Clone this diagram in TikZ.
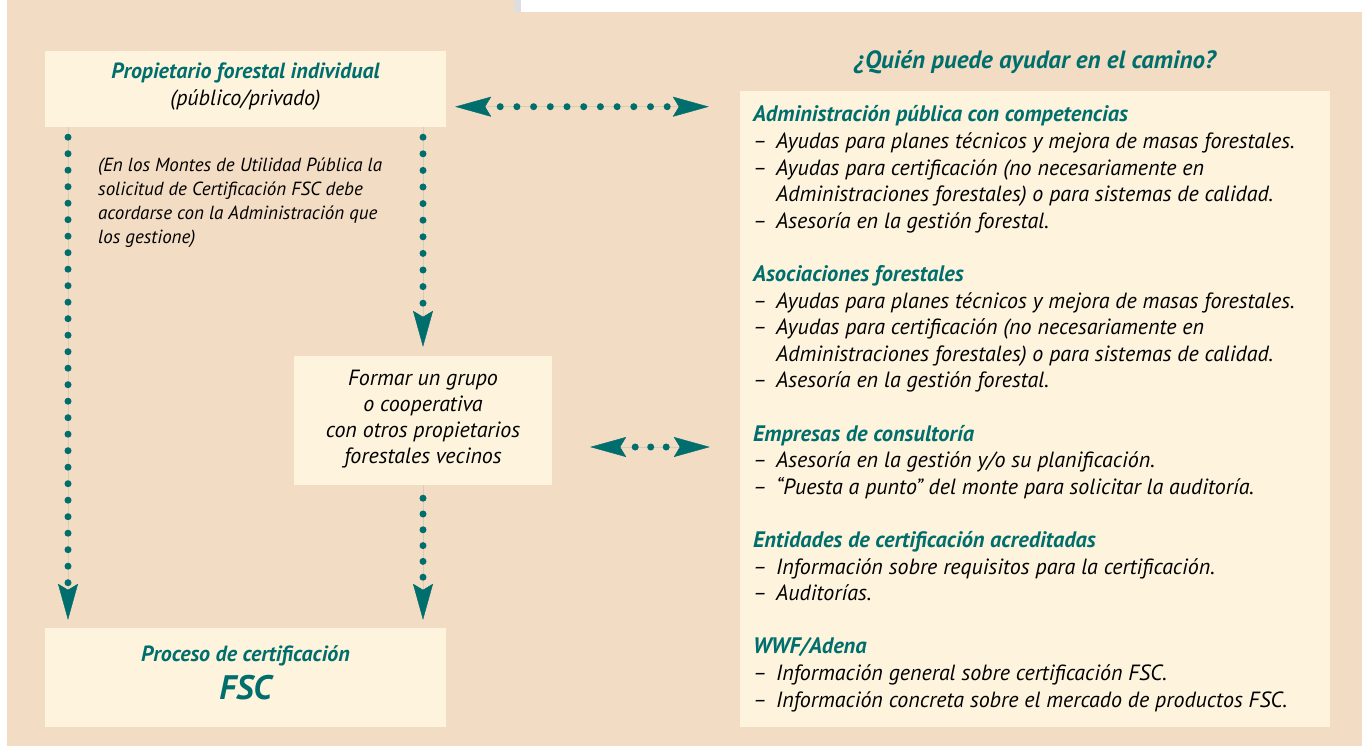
\documentclass[tikz,border=0pt]{standalone}
\usepackage{fontspec}
\setmainfont{PT Sans}
\usetikzlibrary{arrows.meta,calc}
\definecolor{fscteal}{HTML}{006E6C}
\definecolor{woodbg}{HTML}{F2DCC3}
\definecolor{cream}{HTML}{FEF4DD}
\newcommand\bitem[1]{\makebox[23pt][l]{–}#1}
\newcommand\bcont[1]{\hspace*{23pt}#1}
\newcommand\hd[1]{{\color{fscteal}\bfseries\itshape #1}}
\tikzset{
  fhead/.tip={Stealth[length=36pt,width=20pt,inset=6pt]},
  box/.style={fill=cream, draw=none, inner sep=0pt},
  dotsline/.style={draw=fscteal, line width=7pt, line cap=round, dash pattern=on 0pt off #1},
  heads/.style={draw=fscteal, fill=fscteal, line width=0.4pt, line cap=butt, dash pattern=on 0pt off 3000pt},
  txt/.style={inner sep=0pt, text=black},
}
\begin{document}
\begin{tikzpicture}[x=1pt,y=-1pt]
\useasboundingbox (0,0) rectangle (1362,746);
\fill[woodbg] (0,0) rectangle (1362,746);
\fill[white] (0,0) rectangle (7,746);
\fill[white] (521,0) rectangle (1362,12);
\fill[black!13] (514,0) rectangle (521,12);

% boxes
\node[box, minimum width=401pt, minimum height=76pt] (A) at (245.5,89) {};
\node[box, minimum width=258pt, minimum height=129pt] (B) at (423,420.5) {};
\node[box, minimum width=401pt, minimum height=99pt] (C) at (245.5,677.5) {};
\node[box, minimum width=590pt, minimum height=636pt] (D) at (1035,409) {};

% texts
\node[txt, align=center, font=\fontsize{22}{27}\selectfont] (tA) at (245.5,87)
  {\hd{\fontsize{22}{27}\selectfont Propietario forestal individual}\\ \itshape (público/privado)};
\node[txt, align=center, font=\fontsize{22}{26}\selectfont\itshape] (tB) at (423,419)
  {Formar un grupo\\o cooperativa\\con otros propietarios\\forestales vecinos};
\node[txt, font=\fontsize{22}{24}\selectfont] (tC1) at (245.5,656) {\hd{Proceso de certificación}};
\node[txt, font=\fontsize{34}{38}\selectfont] (tC2) at (245.5,688) {\hd{FSC}};
\node[txt, align=left, anchor=north west, font=\fontsize{19}{24}\selectfont\itshape] (note) at (98,157.5)
  {(En los Montes de Utilidad Pública la\\solicitud de Certificación FSC debe\\acordarse con la Administración que\\los gestione)};
\node[txt, font=\fontsize{25}{28}\selectfont] (title) at (1035,62) {\hd{¿Quién puede ayudar en el camino?}};
\node[txt, align=left, anchor=north west, font=\fontsize{22}{26.6}\selectfont\itshape] (list) at (753,105.5)
  {\hd{\fontsize{22.4}{26.6}\selectfont Administración pública con competencias}\\
   \bitem{Ayudas para planes técnicos y mejora de masas forestales.}\\
   \bitem{Ayudas para certificación (no necesariamente en}\\
   \bcont{Administraciones forestales) o para sistemas de calidad.}\\
   \bitem{Asesoría en la gestión forestal.}\\[26.6pt]
   \hd{\fontsize{22.4}{26.6}\selectfont Asociaciones forestales}\\
   \bitem{Ayudas para planes técnicos y mejora de masas forestales.}\\
   \bitem{Ayudas para certificación (no necesariamente en}\\
   \bcont{Administraciones forestales) o para sistemas de calidad.}\\
   \bitem{Asesoría en la gestión forestal.}\\[26.6pt]
   \hd{\fontsize{22.4}{26.6}\selectfont Empresas de consultoría}\\
   \bitem{Asesoría en la gestión y/o su planificación.}\\
   \bitem{“Puesta a punto” del monte para solicitar la auditoría.}\\[26.6pt]
   \hd{\fontsize{22.4}{26.6}\selectfont Entidades de certificación acreditadas}\\
   \bitem{Información sobre requisitos para la certificación.}\\
   \bitem{Auditorías.}\\[26.6pt]
   \hd{\fontsize{22.4}{26.6}\selectfont WWF/Adena}\\
   \bitem{Información general sobre certificación FSC.}\\
   \bitem{Información concreta sobre el mercado de productos FSC.}};

% connector reference lines
\coordinate (xl) at (68,0);
\coordinate (xr) at (423,0);
\coordinate (ytop) at (0,106.7);
\coordinate (ymid) at (0,447);

% left vertical
\draw[dotsline=16.5pt, shorten <=10pt, shorten >=45pt] (A.south -| xl) -- (C.north -| xl);
\draw[heads, -fhead, shorten >=8pt] (A.south -| xl) -- (C.north -| xl);
% right upper
\draw[dotsline=16.6pt, shorten <=10pt, shorten >=51pt] (A.south -| xr) -- (B.north);
\draw[heads, -fhead, shorten >=9pt] (A.south -| xr) -- (B.north);
% right lower
\draw[dotsline=15.8pt, shorten <=13pt, shorten >=50pt] (B.south) -- (C.north -| xr);
\draw[heads, -fhead, shorten >=8pt] (B.south) -- (C.north -| xr);
% top horizontal
\draw[dotsline=16.7pt, shorten <=54pt, shorten >=72pt] (A.east |- ytop) -- (D.west |- ytop);
\draw[heads, fhead-fhead, shorten <=9pt, shorten >=31pt] (A.east |- ytop) -- (D.west |- ytop);
% middle horizontal
\draw[dotsline=15.5pt, shorten <=83pt, shorten >=73pt] (B.east |- ymid) -- (D.west |- ymid);
\draw[heads, fhead-fhead, shorten <=38pt, shorten >=30pt] (B.east |- ymid) -- (D.west |- ymid);
\end{tikzpicture}
\end{document}
